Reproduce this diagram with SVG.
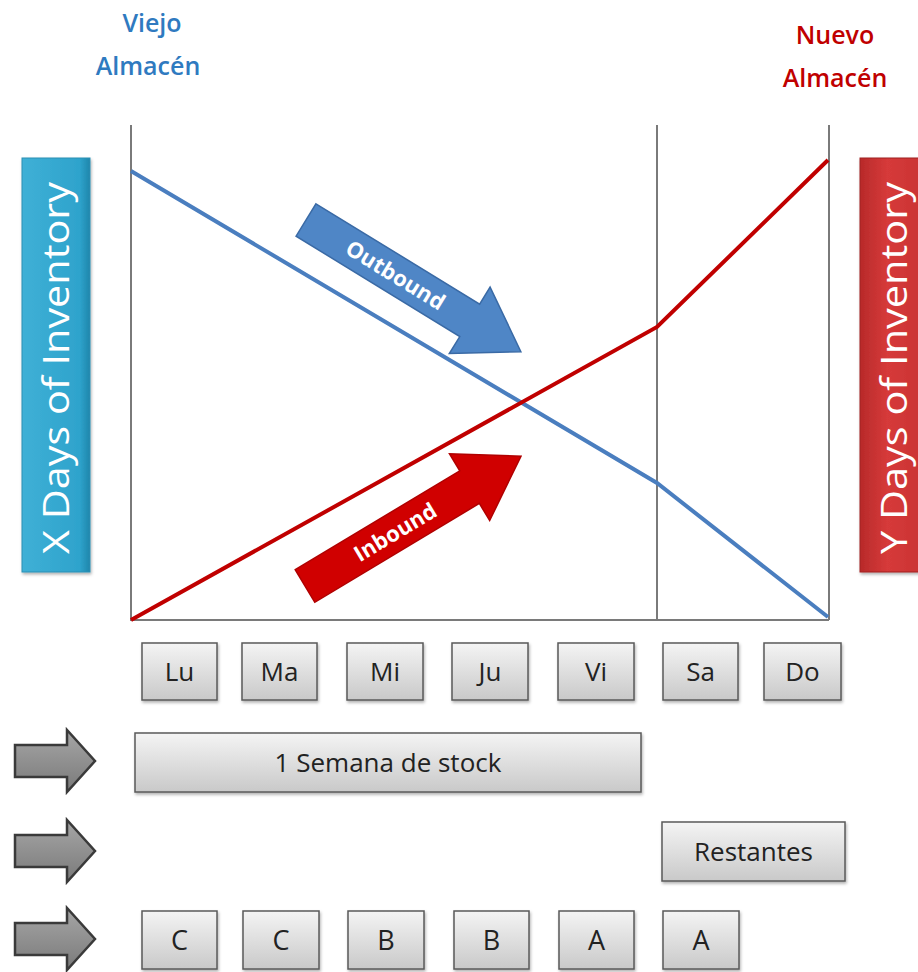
<svg xmlns="http://www.w3.org/2000/svg" width="918" height="972" viewBox="0 0 918 972">
<defs>
<linearGradient id="gbox" x1="0" y1="0" x2="0" y2="1">
<stop offset="0" stop-color="#f4f4f4"/><stop offset="1" stop-color="#c9c9c9"/>
</linearGradient>
<linearGradient id="gcyan" x1="0" y1="0" x2="1" y2="0">
<stop offset="0" stop-color="#3fb0d6"/><stop offset="0.85" stop-color="#2ea3cc"/><stop offset="1" stop-color="#1f86ab"/>
</linearGradient>
<linearGradient id="gred" x1="0" y1="0" x2="1" y2="0">
<stop offset="0" stop-color="#b82a2a"/><stop offset="0.4" stop-color="#d63a3a"/><stop offset="1" stop-color="#c83232"/>
</linearGradient>
<linearGradient id="ggray" x1="0" y1="0" x2="0" y2="1">
<stop offset="0" stop-color="#a6a6a6"/><stop offset="1" stop-color="#7a7a7a"/>
</linearGradient>
<filter id="sh" x="-10%" y="-10%" width="130%" height="130%">
<feDropShadow dx="1" dy="2" stdDeviation="1.5" flood-color="#000" flood-opacity="0.3"/>
</filter>
<path id="garrow" d="M0,15 H52 V0 L80,31 L52,62 V47 H0 Z"/>
</defs>
<style>
.box{fill:url(#gbox);stroke:#5a5a5a;stroke-width:1.5;filter:url(#sh)}
.bt{font-family:"Open Sans","Liberation Sans",sans-serif;font-size:26px;fill:#222;text-anchor:middle}
.lt{font-family:"Open Sans","Liberation Sans",sans-serif;font-size:27px;fill:#222;text-anchor:middle}
.title{font-family:"Open Sans","Liberation Sans",sans-serif;font-weight:600;font-size:25px;text-anchor:middle}
.axis{stroke:#7a7a7a;stroke-width:2;fill:none}
.ga{fill:url(#ggray);stroke:#3a3a3a;stroke-width:2.5;stroke-linejoin:miter}
.side{font-family:"Open Sans","Liberation Sans",sans-serif;font-size:37px;fill:#fff;text-anchor:middle}
.at{font-family:"Open Sans","Liberation Sans",sans-serif;font-weight:700;font-size:22px;fill:#fff;text-anchor:middle}
</style>
<rect width="918" height="972" fill="#fff"/>

<g id="title-viejo">
<text class="title" x="152" y="32" fill="#2f7ac0">Viejo</text>
<text class="title" x="148" y="75" fill="#2f7ac0">Almacén</text>
</g>
<g id="title-nuevo">
<text class="title" x="835" y="44" fill="#c00000">Nuevo</text>
<text class="title" x="835" y="87" fill="#c00000">Almacén</text>
</g>

<g id="x-days">
<rect x="22" y="158" width="68" height="414" fill="url(#gcyan)" stroke="#2a8fb4" stroke-width="1" filter="url(#sh)"/>
<text class="side" transform="translate(69,368) rotate(-90)" textLength="372" lengthAdjust="spacingAndGlyphs">X Days of Inventory</text>
</g>
<g id="y-days">
<rect x="860" y="158" width="68" height="414" fill="url(#gred)" stroke="#a02020" stroke-width="1" filter="url(#sh)"/>
<text class="side" transform="translate(907,368) rotate(-90)" textLength="372" lengthAdjust="spacingAndGlyphs">Y Days of Inventory</text>
</g>

<g id="chart">
<line class="axis" x1="131" y1="125" x2="131" y2="620"/>
<line class="axis" x1="657" y1="125" x2="657" y2="620"/>
<line class="axis" x1="829" y1="125" x2="829" y2="620"/>
<line class="axis" x1="130" y1="620" x2="829" y2="620"/>
<polyline points="131,171 657,483 828,617" fill="none" stroke="#4a7ebf" stroke-width="4"/>
<polyline points="131,620 657,327 828,160" fill="none" stroke="#c00000" stroke-width="4"/>
</g>

<g id="outbound" transform="translate(306,220) rotate(31.5)">
<path d="M0,-19 H192 V-39 L252,0 L192,39 V19 H0 Z" fill="#4f86c6" stroke="#3a6aa5" stroke-width="1.5"/>
<text class="at" x="105" y="8">Outbound</text>
</g>
<g id="inbound" transform="translate(305,586) rotate(-31)">
<path d="M0,-19 H192 V-39 L252,0 L192,39 V19 H0 Z" fill="#d00000" stroke="#b00000" stroke-width="1.5"/>
<text class="at" x="105" y="8">Inbound</text>
</g>

<g id="day-lu"><rect class="box" x="142" y="643" width="75" height="57"/><text class="bt" x="179.5" y="681">Lu</text></g>
<g id="day-ma"><rect class="box" x="242" y="643" width="75" height="57"/><text class="bt" x="279.5" y="681">Ma</text></g>
<g id="day-mi"><rect class="box" x="347" y="643" width="76" height="57"/><text class="bt" x="385" y="681">Mi</text></g>
<g id="day-ju"><rect class="box" x="452" y="643" width="76" height="57"/><text class="bt" x="490" y="681">Ju</text></g>
<g id="day-vi"><rect class="box" x="558" y="643" width="76" height="57"/><text class="bt" x="596" y="681">Vi</text></g>
<g id="day-sa"><rect class="box" x="663" y="643" width="75" height="57"/><text class="bt" x="700.5" y="681">Sa</text></g>
<g id="day-do"><rect class="box" x="764" y="643" width="77" height="57"/><text class="bt" x="802.5" y="681">Do</text></g>

<g id="arrow1"><use href="#garrow" class="ga" transform="translate(15,730)"/></g>
<g id="arrow2"><use href="#garrow" class="ga" transform="translate(15,820)"/></g>
<g id="arrow3"><use href="#garrow" class="ga" transform="translate(15,908)"/></g>

<g id="semana"><rect class="box" x="135" y="733" width="506" height="59"/><text class="bt" x="388" y="772">1 Semana de stock</text></g>
<g id="restantes"><rect class="box" x="662" y="822" width="183" height="59"/><text class="bt" x="753.5" y="861">Restantes</text></g>

<g id="cls-c1"><rect class="box" x="142" y="911" width="75" height="58"/><text class="lt" x="179.5" y="950">C</text></g>
<g id="cls-c2"><rect class="box" x="243" y="911" width="76" height="58"/><text class="lt" x="281" y="950">C</text></g>
<g id="cls-b1"><rect class="box" x="348" y="911" width="76" height="58"/><text class="lt" x="386" y="950">B</text></g>
<g id="cls-b2"><rect class="box" x="454" y="911" width="75" height="58"/><text class="lt" x="491.5" y="950">B</text></g>
<g id="cls-a1"><rect class="box" x="559" y="911" width="75" height="58"/><text class="lt" x="596.5" y="950">A</text></g>
<g id="cls-a2"><rect class="box" x="663" y="911" width="76" height="58"/><text class="lt" x="701" y="950">A</text></g>
</svg>
